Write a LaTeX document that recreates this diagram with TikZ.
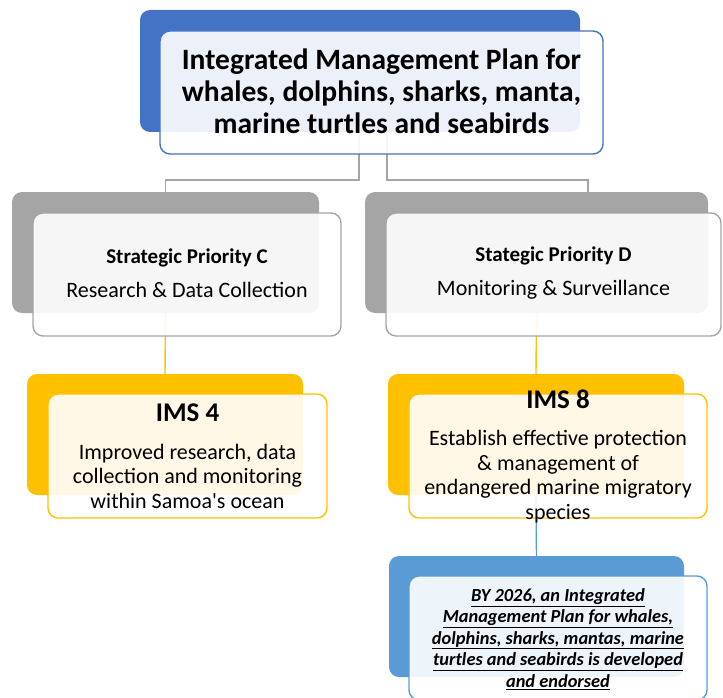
\documentclass[tikz,border=0pt]{standalone}
\usepackage{fontspec}
\setmainfont{Carlito}
\usetikzlibrary{positioning}
\definecolor{mblue}{HTML}{4472C4}
\definecolor{mgray}{HTML}{A5A5A5}
\definecolor{mgold}{HTML}{FFC000}
\definecolor{msky}{HTML}{5B9BD5}
\tikzset{backbox/.style = {rounded corners=10pt, fill=#1, inner sep=0pt},
         frontbox/.style = {rounded corners=10pt, draw=#1, line width=1.4pt,
                            fill=white, fill opacity=0.9, inner sep=0pt},
         link/.style = {draw=#1, line width=1.4pt},
         boxtext/.style = {align=center, inner sep=0pt}}

\begin{document}
\begin{tikzpicture}[x=1pt, y=-1pt]
      \useasboundingbox (0, 0) rectangle (723, 698);

      % back boxes
      \node [backbox=mblue, minimum width=440pt, minimum height=122pt] (planback) at (360, 71) {};
      \node [backbox=mgray, minimum width=307pt, minimum height=121pt] (prioCback) at (165.5, 252.5) {};
      \node [backbox=mgray, minimum width=343pt, minimum height=121pt] (prioDback) at (536.5, 252.5) {};
      \node [backbox=mgold, minimum width=276pt, minimum height=121pt] (imsCback) at (165, 434.5) {};
      \node [backbox=mgold, minimum width=296pt, minimum height=121pt] (imsDback) at (536, 434.5) {};
      \node [backbox=msky, minimum width=295pt, minimum height=121pt] (goalback) at (536.5, 616.5) {};

      % connectors
      \draw [link=mgray] ([xshift=-1pt]planback.south) |- ([yshift=12pt]prioCback.north) -- (prioCback.north);
      \draw [link=mgray] ([xshift=27pt]planback.south) |- ([xshift=51.5pt, yshift=12pt]prioDback.north)
            -- ([xshift=51.5pt]prioDback.north);
      \draw [link=mgold] (prioCback.south) -- (imsCback.north);
      \draw [link=mgold] (prioDback.south) -- (imsDback.north);
      \draw [link=msky] (imsDback.south) -- (goalback.north);

      % front boxes
      \node [frontbox=mblue, minimum width=443pt, minimum height=123pt] (planfront) at (381.5, 92.5) {};
      \node [frontbox=mgray, minimum width=308pt, minimum height=123pt] (prioCfront) at (187, 274.5) {};
      \node [frontbox=mgray, minimum width=335pt, minimum height=123pt] (prioDfront) at (553.5, 274.5) {};
      \node [frontbox=mgold, minimum width=279pt, minimum height=124pt] (imsCfront) at (187.5, 456) {};
      \node [frontbox=mgold, minimum width=298pt, minimum height=124pt] (imsDfront) at (558, 456) {};
      \node [frontbox=msky, minimum width=298pt, minimum height=124pt] (goalfront) at (558, 638) {};

      % texts
      \node [boxtext, font=\bfseries\fontsize{29.5}{32}\selectfont] (plantext) at ([yshift=1pt]planfront)
            {Integrated Management Plan for\\ whales, dolphins, sharks, manta,\\ marine turtles and seabirds};
      \node [boxtext, font=\fontsize{22}{24}\selectfont] (prioCtext) at ([yshift=1pt]prioCfront)
            {\textbf{\fontsize{21}{24}\selectfont Strategic Priority C}\\[10pt] Research \& Data Collection};
      \node [boxtext, font=\fontsize{22}{24}\selectfont] (prioDtext) at ([yshift=1pt]prioDfront)
            {\textbf{\fontsize{21}{24}\selectfont Stategic Priority D}\\[10pt] Monitoring \& Surveillance};
      \node [boxtext, font=\fontsize{22}{24.5}\selectfont] (imsCtext) at (imsCfront)
            {\textbf{\fontsize{27}{24}\selectfont IMS 4}\\[13pt] Improved research, data\\ collection and monitoring\\
             within Samoa\textquotesingle s ocean};
      \node [boxtext, font=\fontsize{22}{24.5}\selectfont] (imsDtext) at (imsDfront)
            {\textbf{\fontsize{27}{24}\selectfont IMS 8}\\[13pt] Establish effective protection\\ \& management of\\
             endangered marine migratory\\ species};
      \node [boxtext, font=\bfseries\itshape\fontsize{18.4}{21.5}\selectfont] (goaltext) at ([yshift=-1pt]goalfront)
            {\underline{BY 2026, an Integrated}\\ \underline{Management Plan for whales,}\\
             \underline{dolphins, sharks, mantas, marine}\\ \underline{turtles and seabirds is developed}\\
             \underline{and endorsed}};
\end{tikzpicture}
\end{document}
